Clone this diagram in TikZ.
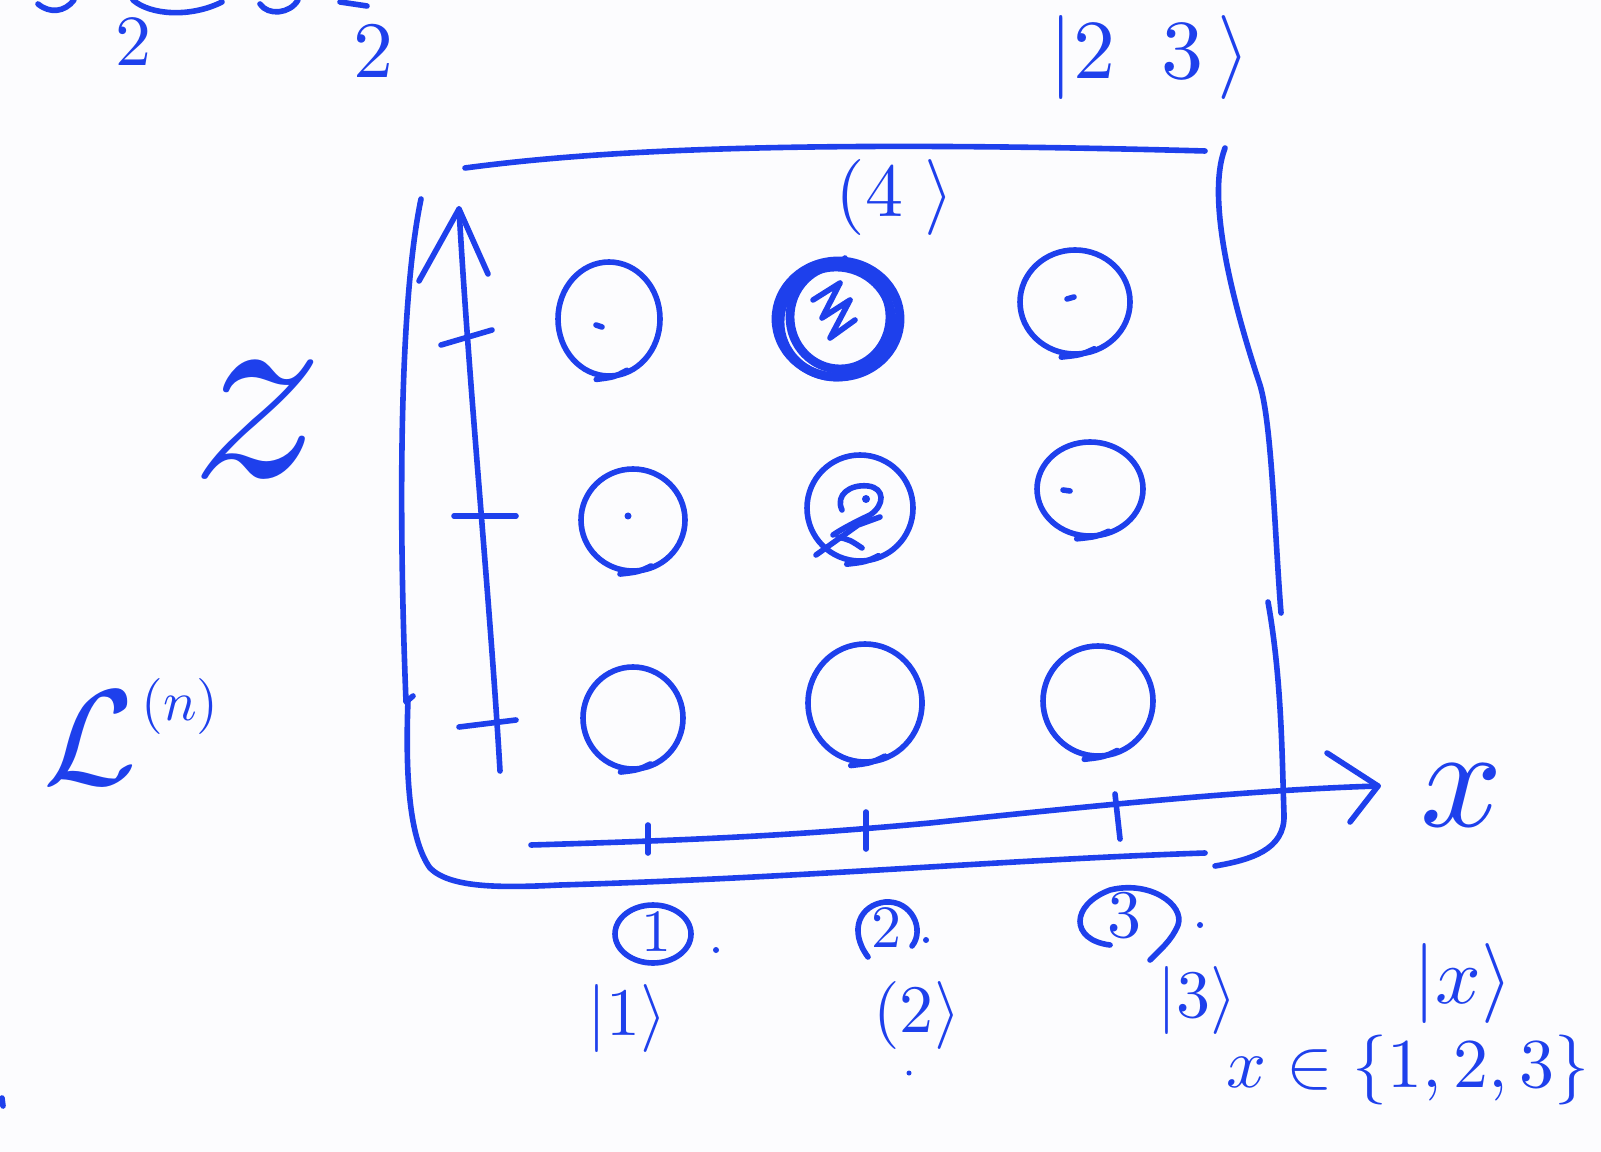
\documentclass[tikz,border=0pt]{standalone}
\usetikzlibrary{calc}
\definecolor{ink}{RGB}{30,64,236}
\definecolor{paper}{RGB}{252,252,254}
\tikzset{
  pen/.style={draw=ink,line width=1.4pt,line cap=round,line join=round},
  heavy/.style={draw=ink,line width=2.2pt,line cap=round},
  lab/.style={text=ink,inner sep=0pt},
}
\newcommand\hcirc[4]{%
  \draw[pen] (#1,#2) ellipse [x radius=#3, y radius=#4];
  \draw[pen] ({#1-0.25*#3},{#2+1.06*#4}) .. controls ({#1+0.1*#3},{#2+1.02*#4}) .. ({#1+0.35*#3},{#2+0.9*#4});
}
\begin{document}
\begin{tikzpicture}[x=0.25pt,y=-0.25pt]
\fill[paper] (0,0) rectangle (1601,1152);
\useasboundingbox (0,0) rectangle (1601,1152);

% top-left fragments
\draw[pen] (38,4) .. controls (50,14) and (65,12) .. (74,0);
\draw[pen] (133,0) .. controls (150,15) and (190,18) .. (222,2);
\draw[pen] (260,4) .. controls (268,16) and (290,14) .. (298,0);
\draw[pen] (340,2) -- (367,6);
\node[lab,scale=1.8] (twoA) at (133,42) {$2$};
\node[lab,scale=2.0] (twoB) at (373,52) {$2$};

% top ket
\node[lab,scale=2.1] (ket23) at (1150,58) {$|2\;\;3\,\rangle$};

% box
\draw[pen] (465,168) .. controls (600,150) and (800,140) .. (1205,151);
\draw[pen] (1225,148) .. controls (1205,200) and (1235,310) .. (1260,385) .. controls (1272,425) and (1275,540) .. (1281,613);
\draw[pen] (1268,602) .. controls (1282,680) and (1282,760) .. (1284,815) .. controls (1285,850) and (1250,860) .. (1215,866);
\draw[pen] (421,199) .. controls (400,300) and (398,500) .. (406,702) -- (413,696);
\draw[pen] (408,700) .. controls (405,780) and (410,840) .. (430,868) .. controls (450,888) and (500,888) .. (560,885) .. controls (800,878) and (1000,860) .. (1205,853);

% y axis
\draw[pen] (500,771) .. controls (490,600) and (470,400) .. (459,209);
\draw[pen] (419,281) -- (459,209) -- (488,274);
\draw[pen] (441,345) -- (492,330);
\draw[pen] (454,516) -- (516,516);
\draw[pen] (459,727) -- (516,720);

% x axis
\draw[pen] (531,845) .. controls (700,840) and (800,835) .. (930,823) .. controls (1100,805) and (1250,790) .. (1378,786);
\draw[pen] (1327,753) -- (1378,786) -- (1350,822);
\draw[pen] (648,825) -- (648,853);
\draw[pen] (866,812) -- (866,849);
\draw[pen] (1115,794) -- (1120,839);

% axis labels
\node[lab,scale=3.6] (xlab) at (1462,795) {$x$};
\node[lab,scale=6.6] (zlab) at (258,420) {$z$};
\node[lab,scale=3.4] (Llab) at (90,738) {$\mathcal{L}$};
\node[lab,scale=1.4] (nsup) at (180,706) {$(n)$};

% grid of circles
\hcirc{609}{319}{51}{57}
\hcirc{1075}{302}{55}{52}
\hcirc{633}{520}{52}{51}
\hcirc{860}{508}{53}{53}
\hcirc{1090}{489}{53}{47}
\hcirc{633}{718}{50}{51}
\hcirc{865}{703}{57}{59}
\hcirc{1098}{701}{55}{55}
% heavy circle
\draw[heavy] (838,319) ellipse [x radius=62, y radius=58];
\draw[heavy] (836,322) ellipse [x radius=56, y radius=55];
\draw[heavy] (840,317) ellipse [x radius=50, y radius=52];
\draw[pen] (842,262) -- (845,258);
% scribble 3 inside heavy circle
\draw[pen] (813,300) -- (840,283) -- (822,318) -- (850,300) -- (830,338) -- (855,320);
% interior marks
\draw[pen] (596,325) -- (602,327);
\draw[pen] (1067,299) -- (1074,297);
\fill[ink] (628,516) circle (3.5);
\draw[pen] (1063,490) -- (1070,491);
% scribbled 2 in middle row
\draw[pen] (842,510) .. controls (835,495) and (850,484) .. (868,486) .. controls (885,488) and (885,505) .. (870,515) .. controls (855,522) and (840,530) .. (833,535);
\draw[pen] (816,555) -- (858,525) -- (880,517);
\draw[pen] (838,537) .. controls (850,540) .. (862,548);
\fill[ink] (866,499) circle (4);

% circled numbers
\draw[pen] (653,934) ellipse [x radius=38, y radius=29];
\node[lab,scale=1.5] (c1) at (656,932) {$1$};
\fill[ink] (716,950) circle (3);
\draw[pen] (868,957) .. controls (848,930) and (860,905) .. (885,902) .. controls (912,900) and (925,930) .. (912,946);
\node[lab,scale=1.5] (c2) at (886,928) {$2$};
\fill[ink] (926,940) circle (3);
\draw[pen] (1110,945) .. controls (1070,940) and (1070,905) .. (1110,890) .. controls (1150,880) and (1185,905) .. (1178,925) .. controls (1172,940) and (1160,950) .. (1150,960);
\node[lab,scale=1.7] (c3) at (1124,916) {$3$};
\fill[ink] (1200,925) circle (3);

% kets
\node[lab,scale=1.9] (ket4) at (895,198) {$(4\;\rangle$};
\node[lab,scale=1.7] (k1) at (627,1018) {$|1\rangle$};
\node[lab,scale=1.7] (k2) at (917,1015) {$(2\rangle$};
\node[lab,scale=1.7] (k3) at (1197,1000) {$|3\rangle$};
\node[lab,scale=2.0] (kx) at (1463,983) {$|x\rangle$};
\node[lab,scale=1.75] (xset) at (1408,1070) {$x\in\{1,2,3\}$};
\fill[ink] (909,1073) circle (2.5);
\draw[pen] (2,1098) -- (3,1106);
\end{tikzpicture}
\end{document}
